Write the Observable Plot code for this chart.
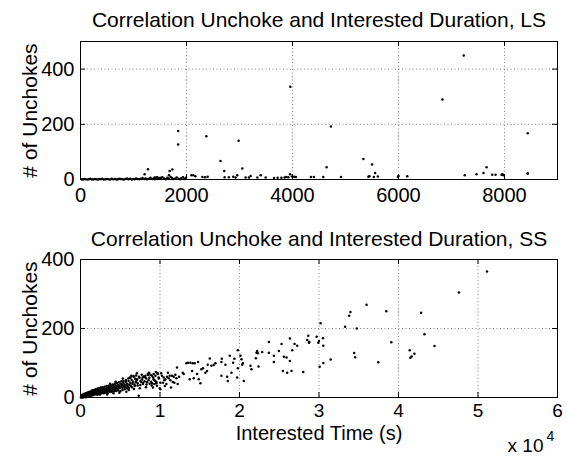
<!DOCTYPE html>
<html><head><meta charset="utf-8">
<script src="https://cdn.jsdelivr.net/npm/d3@7"></script>
<script src="https://cdn.jsdelivr.net/npm/@observablehq/plot@0.6"></script>
<style>
body{margin:0;background:#fff;}
#chart{width:567px;height:456px;overflow:hidden;}
svg{display:block;}
</style></head><body><div id="chart"></div>
<script>
const lsTitle = "Correlation Unchoke and Interested Duration, LS";
const ssTitle = "Correlation Unchoke and Interested Duration, SS";
const yLabel = "# of Unchokes";
const xLabel = "Interested Time (s)";
const xExpBase = "x 10";
const xExp = "4";

const lsXTicks = [0, 2000, 4000, 6000, 8000];
const lsYTicks = [0, 200, 400];
const ssXTicks = [0, 10000, 20000, 30000, 40000, 50000, 60000];
const ssYTicks = [0, 200, 400];

// LS: [interested time, unchokes]
const lsPoints = [
[20,1],[45,0],[70,2],[95,1],[130,0],[160,1],[185,3],[210,1],[240,0],[270,2],[300,1],[330,0],[355,2],[385,1],[410,3],[440,0],[470,1],[500,2],[530,1],[560,0],[590,3],[615,1],[650,2],[680,0],[705,1],[735,3],[760,2],[790,1],[820,0],[850,2],[880,4],[905,1],[935,3],[965,0],[990,2],[1020,1],[1050,4],[1080,2],[1110,1],[1140,3],[1170,5],[1200,2],[1230,4],[1255,1],[1290,3],[1320,6],[1350,2],[1380,4],[1400,1],[1430,7],[1460,3],[1490,5],[1520,2],[1545,8],[1580,4],[1610,1],[1640,6],[1665,3],[1700,9],[1725,5],[1760,2],[1790,4],[1815,7],[1850,3],[1880,1],[1905,5],[1935,8],[1960,2],[1990,6],
[1210,19],[1273,37],[1400,7],[1450,8],[1520,6],[1670,15],[1682,31],[1733,36],[1843,176],[1843,127],[2093,15],[2130,15],[2168,12],[2300,9],[2350,8],[2400,10],[2375,157],[2642,67],[2712,31],[2720,8],[2800,8],[2882,10],[2926,7],[2958,15],[2983,140],[3053,40],[3115,7],[3178,7],[3210,13],[3337,7],[3400,15],[3494,7],[3652,5],[3720,6],[3790,6],[3850,7],[3880,9],[3920,8],[3955,19],[3959,336],[3990,11],[4030,10],[4062,9],[4347,9],[4403,9],[4580,9],[4643,44],[4725,192],[4915,9],[5337,74],[5432,10],[5451,12],[5502,54],[5534,9],[5559,24],[5610,11],[5989,9],[6000,13],[6165,12],[6828,290],[7231,449],[7250,15],[7472,19],[7604,24],[7661,44],[7769,17],[7831,17],[7945,17],[7964,19],[7980,15],[8438,168],[8438,23],[8438,21]
];

// SS: [interested time, unchokes]
const ssPoints = [
[60,0],[110,2],[150,1],[190,4],[230,2],[270,0],[310,5],[340,3],[380,1],[420,6],[450,3],[490,7],[520,2],[560,5],[600,8],[640,4],[670,1],[710,9],[750,6],[790,3],[820,10],[860,7],[900,4],[930,11],[970,8],[1010,5],[1050,12],[1080,9],[1120,6],[1160,13],[1200,10],[1230,7],[1270,14],[1310,11],[1350,8],[1380,15],[1420,12],[1460,9],[1500,16],[1530,13],[1570,10],[1610,17],[1650,14],[1680,11],[1720,18],[1760,15],[1800,12],[1830,19],[1870,16],[1910,13],[1950,20],[1980,17],[2020,14],[2060,21],[2100,18],[2140,11],[2170,15],[2210,22],[2250,19],[2290,13],[2330,17],[2370,23],[2410,14],[2460,20],
[80,3],[130,5],[200,7],[260,3],[330,8],[400,10],[470,4],[540,11],[610,6],[690,12],[760,13],[840,5],[910,14],[990,15],[1070,16],[1140,3],[1220,17],[1290,5],[1370,18],[1440,20],[1520,6],[1590,21],[1660,8],[1740,22],[1810,9],[1890,24],[1960,10],[2040,25],[2120,8],[2200,26],[2280,10],[2360,27],[2440,9],[2560,29],[2680,14],[2800,30],[2920,12],[3040,31],[3160,15],[3280,33],[3410,12],[3540,34],[3670,16],[3800,36],[3930,17],[4060,38],[4190,18],[4320,40],[4460,19],[4590,42],[4720,20],[4860,44],[5000,18],[5150,47],[5280,22],[5420,48],[5560,24],[5710,51],[5850,26],[6000,55],[6120,28],[6300,57],[6480,30],[6650,62],[6830,33],[7000,64],[7180,35],[7350,60],[7520,36],[7700,66],[7880,42],[8100,59],[8300,38],[8500,65],[8700,40],
[3350,9],[3720,40],[4150,12],[4420,46],[4890,14],[5330,55],[5770,17],[6070,22],[6390,63],[6720,25],[7090,70],[7460,27],[7810,58],[8230,30],[8620,72],[8950,35],[9480,74],[10150,70],[10600,33],[11600,45],[12400,60],[11000,72],
[2520,16],[2580,24],[2640,12],[2700,19],[2760,22],[2820,15],[2880,26],[2940,18],[3000,21],[3060,14],[3130,25],[3190,19],[3250,23],[3310,16],[3380,28],[3440,20],[3500,24],[3570,18],[3630,30],[3700,22],[3760,26],[3830,19],[3900,32],[3960,24],[4030,28],[4100,21],[4170,33],[4240,26],[4310,30],[4380,23],[4450,35],[4520,27],[4600,32],[4680,25],[4750,37],[4830,29],[4900,34],[4980,27],[5060,40],[5140,31],[5220,36],[5300,28],[5380,42],[5460,33],[5540,38],[5620,30],[5700,45],[5790,35],[5870,40],[5950,32],[6050,48],[6140,37],[6201,58],[6260,43],[6350,34],[6440,51],[6530,40],[6620,46],[6704,60],[6780,38],[6870,54],[6960,44],[7050,49],[7123,53],[7200,41],[7330,5],[7420,57],[7542,48],[7640,45],[7750,52],[7850,39],[7950,61],[8060,47],[8170,63],[8280,55],[8370,44],[8464,68],[8560,50],[8660,57],[8799,66],[8880,46],[9000,41],[9134,58],[9209,68],[9300,50],[9428,63],[9560,45],[9721,70],[9850,55],[9972,27],
[8990,63],[9202,53],[9412,48],[9286,39],[9622,34],[9118,29],[9832,58],[10042,24],[9706,68],[10252,63],[10462,58],[10672,53],[10378,43],[10882,60],[11092,56],[11302,50],[11512,63],[11722,60],[11932,66],[11386,29],[10798,39],[10042,43],[9538,41],[10546,50],[11218,63],[11806,43],[12142,87],[12226,39],[12058,56],
[12856,72],[12982,68],[13318,99],[13528,101],[13822,101],[14116,99],[14368,99],[14788,103],[14032,77],[13738,53],[14242,56],[14662,68],[14872,53],[15082,41],[15208,82],[15418,85],[15712,72],[15922,77],[16006,95],[16258,113],[16468,92],[16762,94],[16972,99],[17728,103],[17770,112],[17728,63],[18232,95],[18442,60],[18526,48],[18778,121],[18988,72],[19198,101],[19366,112],[19786,137],[19786,85],[19702,58],[20122,121],[20248,111],[20332,95],[20416,99],[20542,48],[21382,92],[21508,82],[22054,114],[22138,130],[22222,135],[22306,128],[22390,90],[22852,132],[23692,161],[23692,130],[24322,121],[24322,103],[24952,135],[25288,155],[25456,77],[25582,118],[25918,116],[26002,72],[26338,171],[26338,106],[26548,77],[26632,137],[26926,155],[27262,150],[28018,74],[28522,167],[28648,179],[28732,159],[28779,161],[29705,176],[29908,159],[30000,164],[30202,215],[30505,172],[30538,150],[30084,89],[30547,100],
[31474,110],[33284,205],[33789,237],[33958,248],[34757,200],[34420,129],[34547,117],[35979,269],[37452,102],[38462,250],[39094,160],[42841,246],[43262,183],[41409,137],[41999,127],[41662,119],[41493,115],[44525,149],[47598,304],[51134,365]
];

const font = "'Liberation Sans', Arial, Helvetica, sans-serif";
const W = 567, ML = 80, MR = 10;

function panel({points, xDomain, yDomain, xTicks, yTicks, xFormat, title, height, marginTop, marginBottom, titleDy, xPad, xSize, extra}) {
  const plotH = height - marginTop - marginBottom;
  const plotW = W - ML - MR;
  const gridStyle = {stroke: "#000", strokeOpacity: 0.6, strokeDasharray: "1,2.5", strokeWidth: 0.8};
  return Plot.plot({
    width: W, height, marginLeft: ML, marginRight: MR, marginTop, marginBottom,
    style: {fontFamily: font, fontSize: "20px", background: "#fff", color: "#000", overflow: "visible"},
    x: {domain: xDomain},
    y: {domain: yDomain},
    marks: [
      Plot.gridX(xTicks.filter(t => t > xDomain[0] && t < xDomain[1]), gridStyle),
      Plot.gridY(yTicks.filter(t => t > yDomain[0] && t < yDomain[1]), gridStyle),
      Plot.dot(points, {x: d => d[0], y: d => d[1], r: 1.25, fill: "#000", stroke: null}),
      Plot.tickX(xTicks, {x: d => d, insetTop: plotH - 5, stroke: "#000"}),
      Plot.tickX(xTicks, {x: d => d, insetBottom: plotH - 5, stroke: "#000"}),
      Plot.tickY(yTicks, {y: d => d, insetRight: plotW - 5, stroke: "#000"}),
      Plot.tickY(yTicks, {y: d => d, insetLeft: plotW - 5, stroke: "#000"}),
      Plot.frame({stroke: "#000", strokeWidth: 1}),
      Plot.axisX(xTicks, {tickSize: 0, tickPadding: xPad, tickFormat: xFormat, fontSize: xSize, label: null}),
      Plot.axisY(yTicks, {tickSize: 0, tickPadding: 6, fontSize: 20, label: null}),
      Plot.text([title], {frameAnchor: "top", dy: titleDy, text: d => d, fontSize: 21, lineAnchor: "middle", textAnchor: "middle"}),
      Plot.text([yLabel], {frameAnchor: "left", dx: -50, rotate: -90, text: d => d, fontSize: 21, lineAnchor: "middle", textAnchor: "middle"}),
      ...(extra || [])
    ]
  });
}

const topChart = panel({
  points: lsPoints, xDomain: [0, 9000], yDomain: [0, 500],
  xTicks: lsXTicks, yTicks: lsYTicks, xFormat: d => String(d),
  title: lsTitle, height: 220, marginTop: 41, marginBottom: 41, titleDy: -21, xPad: 8, xSize: 20
});

const bottomChart = panel({
  points: ssPoints, xDomain: [0, 60000], yDomain: [0, 400],
  xTicks: ssXTicks, yTicks: ssYTicks, xFormat: d => String(d / 10000),
  title: ssTitle, height: 236, marginTop: 39, marginBottom: 59, titleDy: -20, xPad: 6, xSize: 19,
  extra: [
    Plot.text([xLabel], {frameAnchor: "bottom", dy: 36, text: d => d, fontSize: 20, lineAnchor: "middle", textAnchor: "middle"}),
    Plot.text([xExpBase], {frameAnchor: "bottom-right", dx: -14, dy: 48, text: d => d, textAnchor: "end", lineAnchor: "middle", fontSize: 19}),
    Plot.text([xExp], {frameAnchor: "bottom-right", dx: -11, dy: 39, text: d => d, textAnchor: "start", lineAnchor: "middle", fontSize: 14})
  ]
});

const el = document.getElementById("chart");
el.appendChild(topChart);
el.appendChild(bottomChart);
</script></body></html>
